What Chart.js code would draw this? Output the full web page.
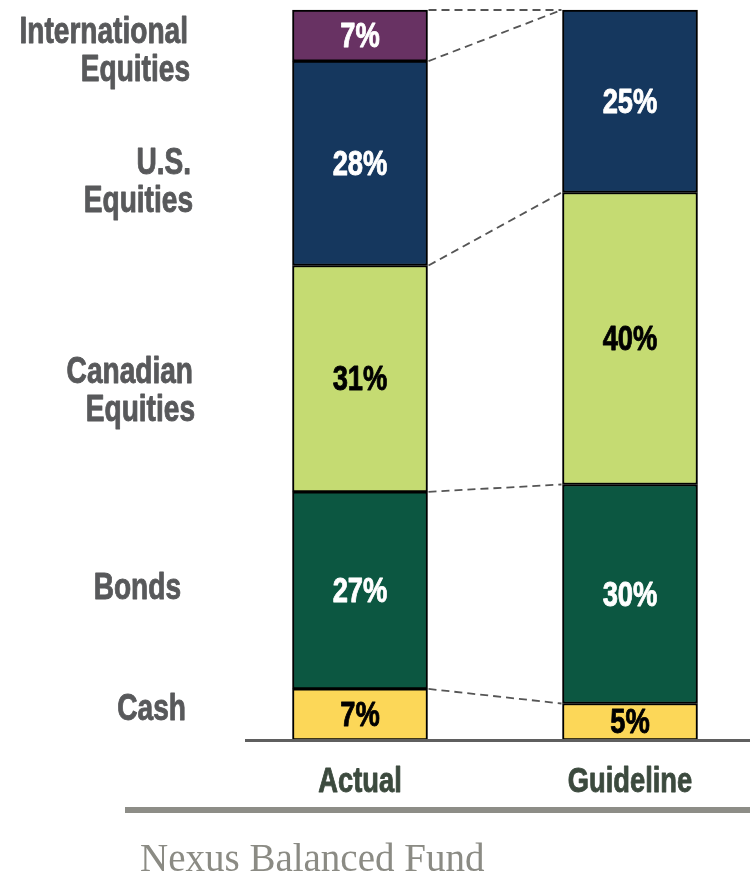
<!DOCTYPE html>
<html>
<head>
<meta charset="utf-8">
<script src="https://cdn.jsdelivr.net/npm/chart.js@4/dist/chart.umd.min.js"></script>
<style>
  body { margin: 0; background: #fff; }
  #wrap { width: 750px; height: 876px; }
</style>
</head>
<body>
<div id="wrap"><canvas id="myChart" width="750" height="876"></canvas></div>
<script>
const categories = ['Actual', 'Guideline'];

// stacked bottom to top
const seriesNames = ['Cash', 'Bonds', 'Canadian Equities', 'U.S. Equities', 'International Equities'];
const cash = [7, 5];
const bonds = [27, 30];
const canadian = [31, 40];
const us = [28, 25];
const intl = [7, 0];

const sideLabels = [['Cash'], ['Bonds'], ['Canadian', 'Equities'], ['U.S.', 'Equities'], ['International', 'Equities']];
const colors = ['#fcd758', '#0c5741', '#c5db72', '#15375e', '#683263'];
const textColors = ['#000', '#fff', '#000', '#fff', '#fff'];

const sans = "'Liberation Sans', Arial, sans-serif";
const squeeze = 0.78;

// condensed text: the installed fonts have no narrow cut, so squeeze horizontally
function narrowText(c, text, x, y, align) {
    c.save();
    c.translate(x, y);
    c.scale(squeeze, 1);
    c.textAlign = align;
    c.strokeStyle = c.fillStyle;
    c.lineWidth = 0.9;
    c.lineJoin = 'round';
    c.fillText(text, 0, 0);
    c.strokeText(text, 0, 0);
    c.restore();
}

const extras = {
    id: 'extras',
    afterDatasetsDraw(chart) {
        const c = chart.ctx;
        const metas = chart.data.datasets.map((d, i) => chart.getDatasetMeta(i));

        // dashed connectors between segment tops
        c.save();
        c.strokeStyle = '#555';
        c.lineWidth = 1.8;
        c.setLineDash([8, 5]);
        metas.forEach((m) => {
            const a = m.data[0], g = m.data[1];
            c.beginPath();
            c.moveTo(a.x + a.width / 2 + 1, a.y);
            c.lineTo(g.x - g.width / 2 - 1, g.y);
            c.stroke();
        });
        c.restore();

        // value labels
        c.save();
        c.font = 'bold 35px ' + sans;
        c.textBaseline = 'middle';
        metas.forEach((m, i) => {
            m.data.forEach((el, j) => {
                const v = chart.data.datasets[i].data[j];
                if (!v) return;
                c.fillStyle = textColors[i];
                narrowText(c, v + '%', el.x, (el.y + el.base) / 2 + 2, 'center');
            });
        });
        c.restore();

        // side labels next to the actual bar
        const nudge = [-6, -3, 11, 18, 15];
        const right = [186, 181, 193, 191, 188];
        c.save();
        c.font = 'bold 36px ' + sans;
        c.fillStyle = '#58595b';
        c.textBaseline = 'middle';
        metas.forEach((m, i) => {
            const el = m.data[0];
            const mid = (el.y + el.base) / 2 + nudge[i];
            const lines = sideLabels[i];
            lines.forEach((t, k) => {
                narrowText(c, t, right[i] + (k > 0 ? 2 : 0), mid + 2 + (k - (lines.length - 1) / 2) * 38, 'right');
            });
        });
        c.restore();

        // category labels under the bars
        const xs = chart.scales.x;
        c.save();
        c.font = 'bold 35px ' + sans;
        c.fillStyle = '#3c4a3e';
        c.textBaseline = 'middle';
        categories.forEach((cat, j) => {
            narrowText(c, cat, xs.getPixelForValue(j), 782, 'center');
        });
        c.restore();

        // baseline, bottom rule and title
        const bottom = chart.chartArea.bottom;
        c.save();
        c.fillStyle = '#5f5f5f';
        c.fillRect(245, bottom - 1, 505, 3);
        c.fillStyle = '#8d8d87';
        c.fillRect(125, 807, 625, 6);
        c.font = "39px 'Liberation Serif', 'DejaVu Serif', serif";
        c.fillStyle = '#8b8b84';
        c.textAlign = 'left';
        c.textBaseline = 'alphabetic';
        c.fillText('Nexus Balanced Fund', 140, 871);
        c.restore();
    }
};

const seriesData = [cash, bonds, canadian, us, intl];

const chart = new Chart(document.getElementById('myChart'), {
    type: 'bar',
    data: {
        labels: categories,
        datasets: seriesData.map((d, i) => ({
            label: seriesNames[i],
            data: d,
            backgroundColor: colors[i],
            borderColor: '#000',
            borderWidth: 2,
            borderSkipped: false,
            barThickness: 135,
            clip: false,
        }))
    },
    options: {
        responsive: false,
        animation: false,
        layout: { padding: { top: 10, left: 360, right: 120, bottom: 0 } },
        plugins: { legend: { display: false }, tooltip: { enabled: false } },
        scales: {
            x: {
                stacked: true,
                offset: false,
                grid: { display: false, drawTicks: false },
                border: { display: false },
                ticks: { display: false },
                afterFit: (s) => { s.height = 136; },
            },
            y: {
                stacked: true,
                display: false,
                min: 0,
                max: 100,
            }
        }
    },
    plugins: [extras]
});
</script>
</body>
</html>
